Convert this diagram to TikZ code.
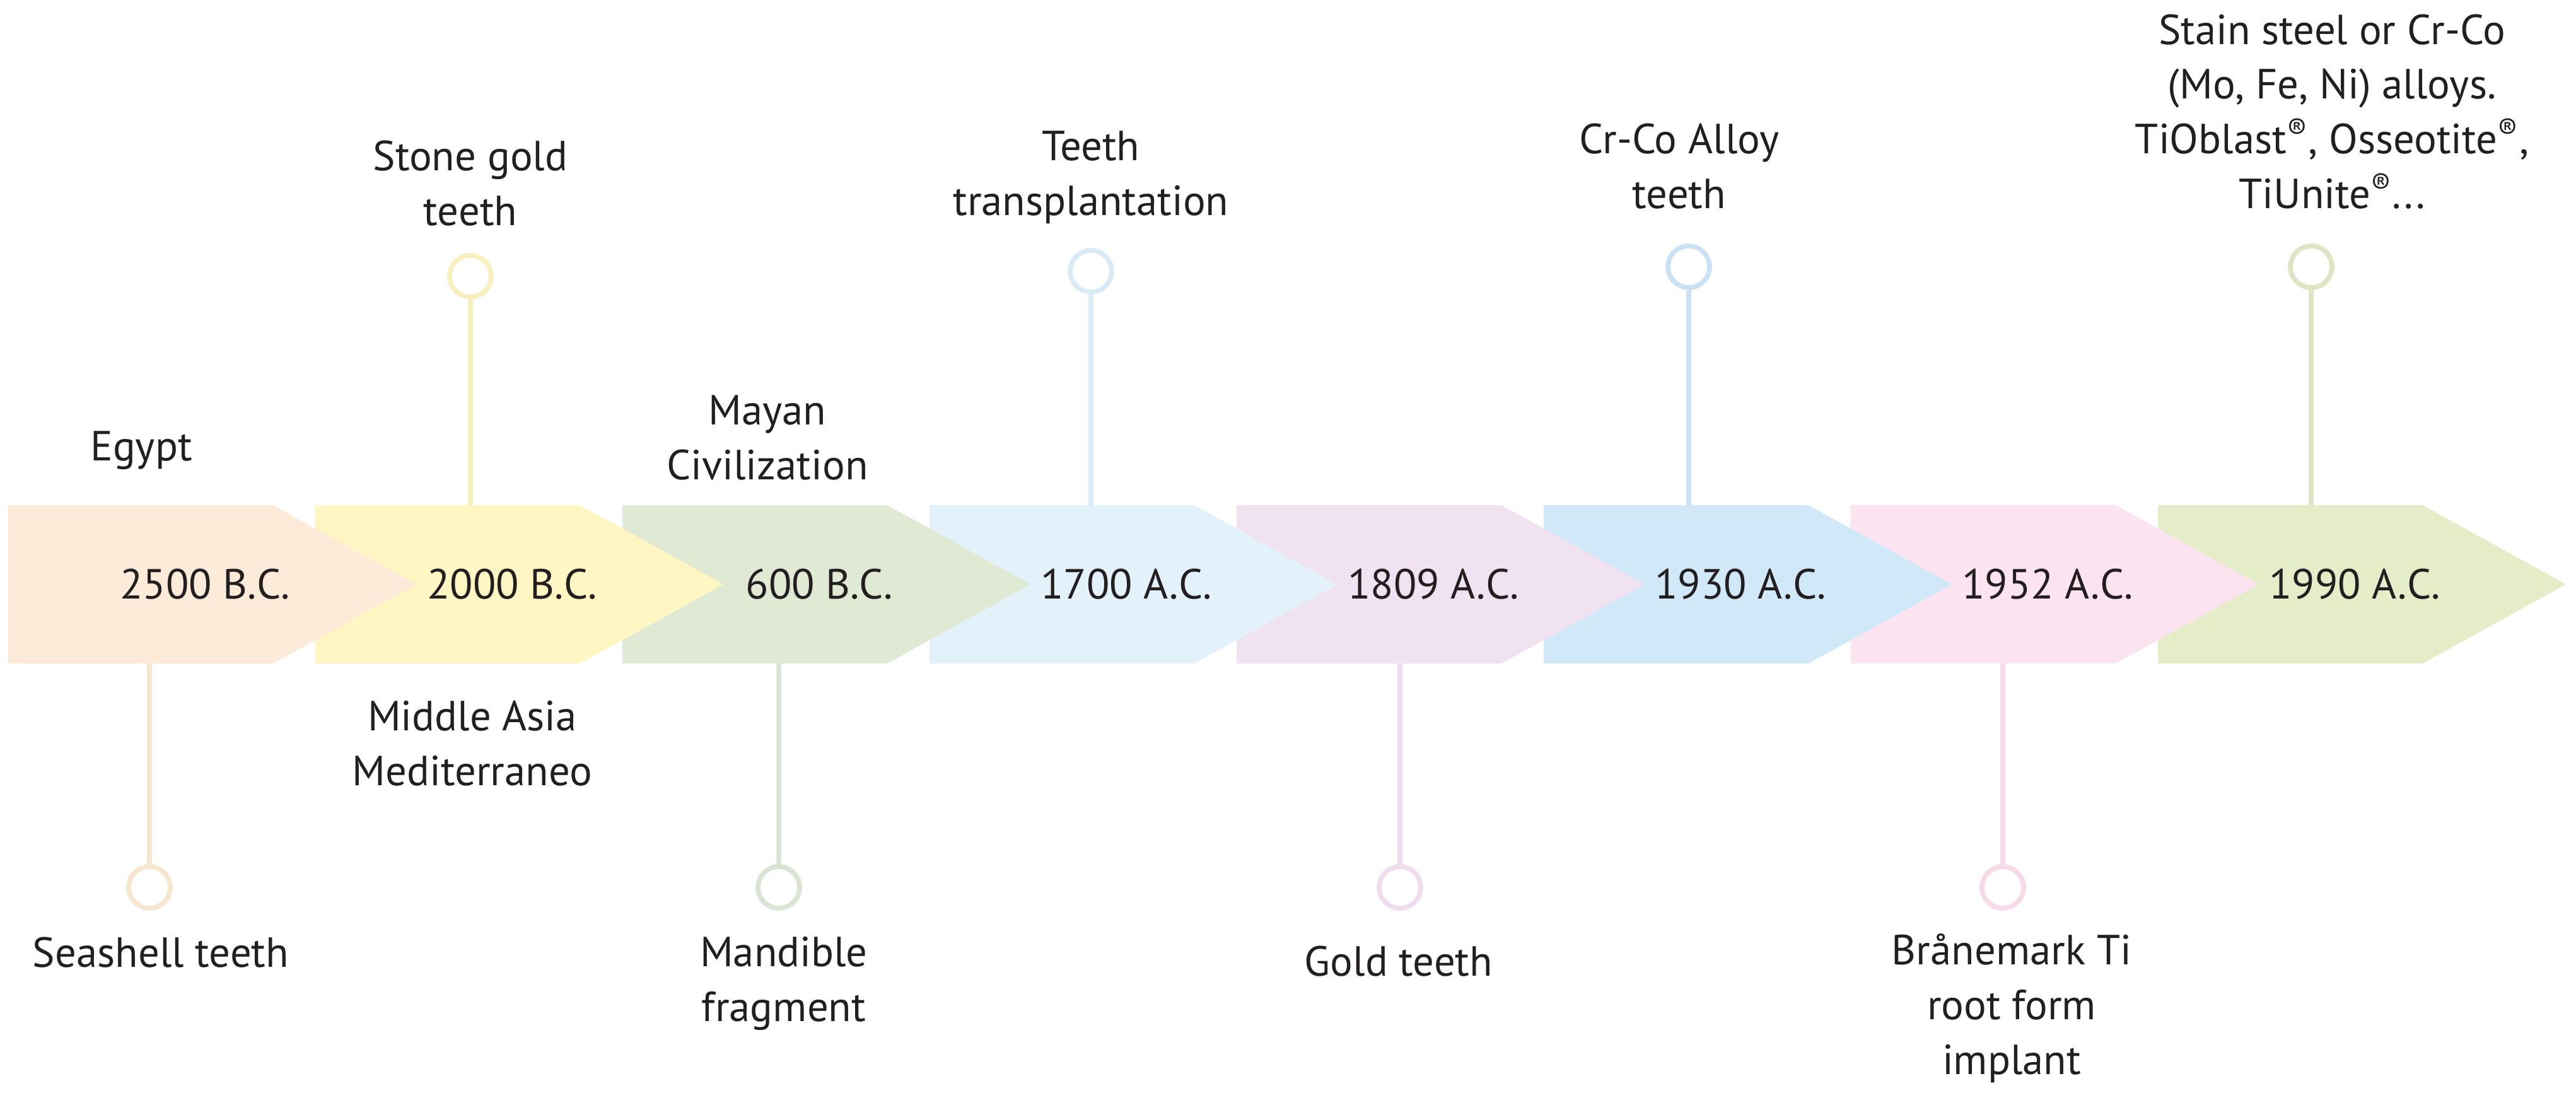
\documentclass[tikz,border=0pt]{standalone}
\usepackage{fontspec}
\setmainfont{PT Sans}
\usepackage{xcolor}
\usetikzlibrary{calc}

% arrow fills
\definecolor{chA}{HTML}{FDEBDA}
\definecolor{chB}{HTML}{FFF6C3}
\definecolor{chC}{HTML}{DFE9D4}
\definecolor{chD}{HTML}{E2F1FA}
\definecolor{chE}{HTML}{F0E2F0}
\definecolor{chF}{HTML}{D1E8F8}
\definecolor{chG}{HTML}{FCE3F0}
\definecolor{chH}{HTML}{E5EDC8}
% stems and rings
\definecolor{ln1}{HTML}{F6E6CF}
\definecolor{ln2}{HTML}{F7F0BE}
\definecolor{ln3}{HTML}{DAE4D3}
\definecolor{ln4}{HTML}{DBEBF6}
\definecolor{ln5}{HTML}{EEDEED}
\definecolor{ln6}{HTML}{CBE2F4}
\definecolor{ln7}{HTML}{F7DAE8}
\definecolor{ln8}{HTML}{DEE5C5}
\definecolor{txt}{HTML}{231F20}

\begin{document}
\begin{tikzpicture}[
    font=\fontsize{19}{24.7}\selectfont,
    text=txt,
    date/.style={inner sep=0pt},
    lbl/.style={inner sep=0pt, align=center},
    tick/.style={line width=2.2pt},
    ring/.style={circle, line width=2.2pt, minimum size=0.66cm, inner sep=0pt, fill=white}
]
    \useasboundingbox (0,0) rectangle (40.85,17.32);

    % Arrows, last to first so each tip lies over the next arrow
    \foreach \i/\col/\yr in {8/chH/1990 A.C., 7/chG/1952 A.C., 6/chF/1930 A.C., 5/chE/1809 A.C.,
                             4/chD/1700 A.C., 3/chC/600 B.C., 2/chB/2000 B.C., 1/chA/2500 B.C.} {
        \pgfmathsetmacro{\L}{0.13+4.87*(\i-1)}
        \fill[\col] (\L,6.80) -- ++(4.20,0) -- ++(2.27,1.255) -- ++(-2.27,1.255) -- ++(-4.20,0) -- cycle;
        \node[date] (d\i) at (\L+3.12,8.055) {\yr};
    }

    % Events above the arrows
    \foreach \i/\x/\y in {2/7.46/12.94, 4/17.30/13.02, 6/26.78/13.09, 8/36.65/13.09} {
        \node[ring, draw=ln\i] (r\i) at (\x,\y) {};
        \coordinate (e\i) at (\x,9.31);
        \draw[tick, ln\i] (r\i) -- (e\i);
    }

    % Events below the arrows
    \foreach \i/\x in {1/2.37, 3/12.35, 5/22.20, 7/31.76} {
        \node[ring, draw=ln\i] (r\i) at (\x,3.25) {};
        \coordinate (e\i) at (\x,6.80);
        \draw[tick, ln\i] (e\i) -- (r\i);
    }

    % Places
    \node[lbl] (p1) at (2.24,10.175) {Egypt};
    \node[lbl] (p2) at (7.49,5.535) {Middle Asia\\Mediterraneo};
    \node[lbl] (p3) at (12.17,10.38) {Mayan\\Civilization};

    % Findings
    \node[lbl] (t1) at (2.55,2.215) {Seashell teeth};
    \node[lbl] (t2) at (7.46,14.415) {Stone gold\\teeth};
    \node[lbl] (t3) at (12.43,1.725) {Mandible\\fragment};
    \node[lbl] (t4) at (17.30,14.51) {Teeth\\transplantation};
    \node[lbl] (t5) at (22.18,2.075) {Gold teeth};
    \node[lbl] (t6) at (26.63,14.685) {Cr-Co Alloy\\teeth};
    \node[lbl] (t7) at (31.90,1.335) {Brånemark Ti\\root form\\implant};
    \node[lbl] (t8) at (36.98,15.55) {Stain steel or Cr-Co\\(Mo, Fe, Ni) alloys.\\TiOblast\textsuperscript{®}, Osseotite\textsuperscript{®},\\TiUnite\textsuperscript{®}...};
\end{tikzpicture}
\end{document}
